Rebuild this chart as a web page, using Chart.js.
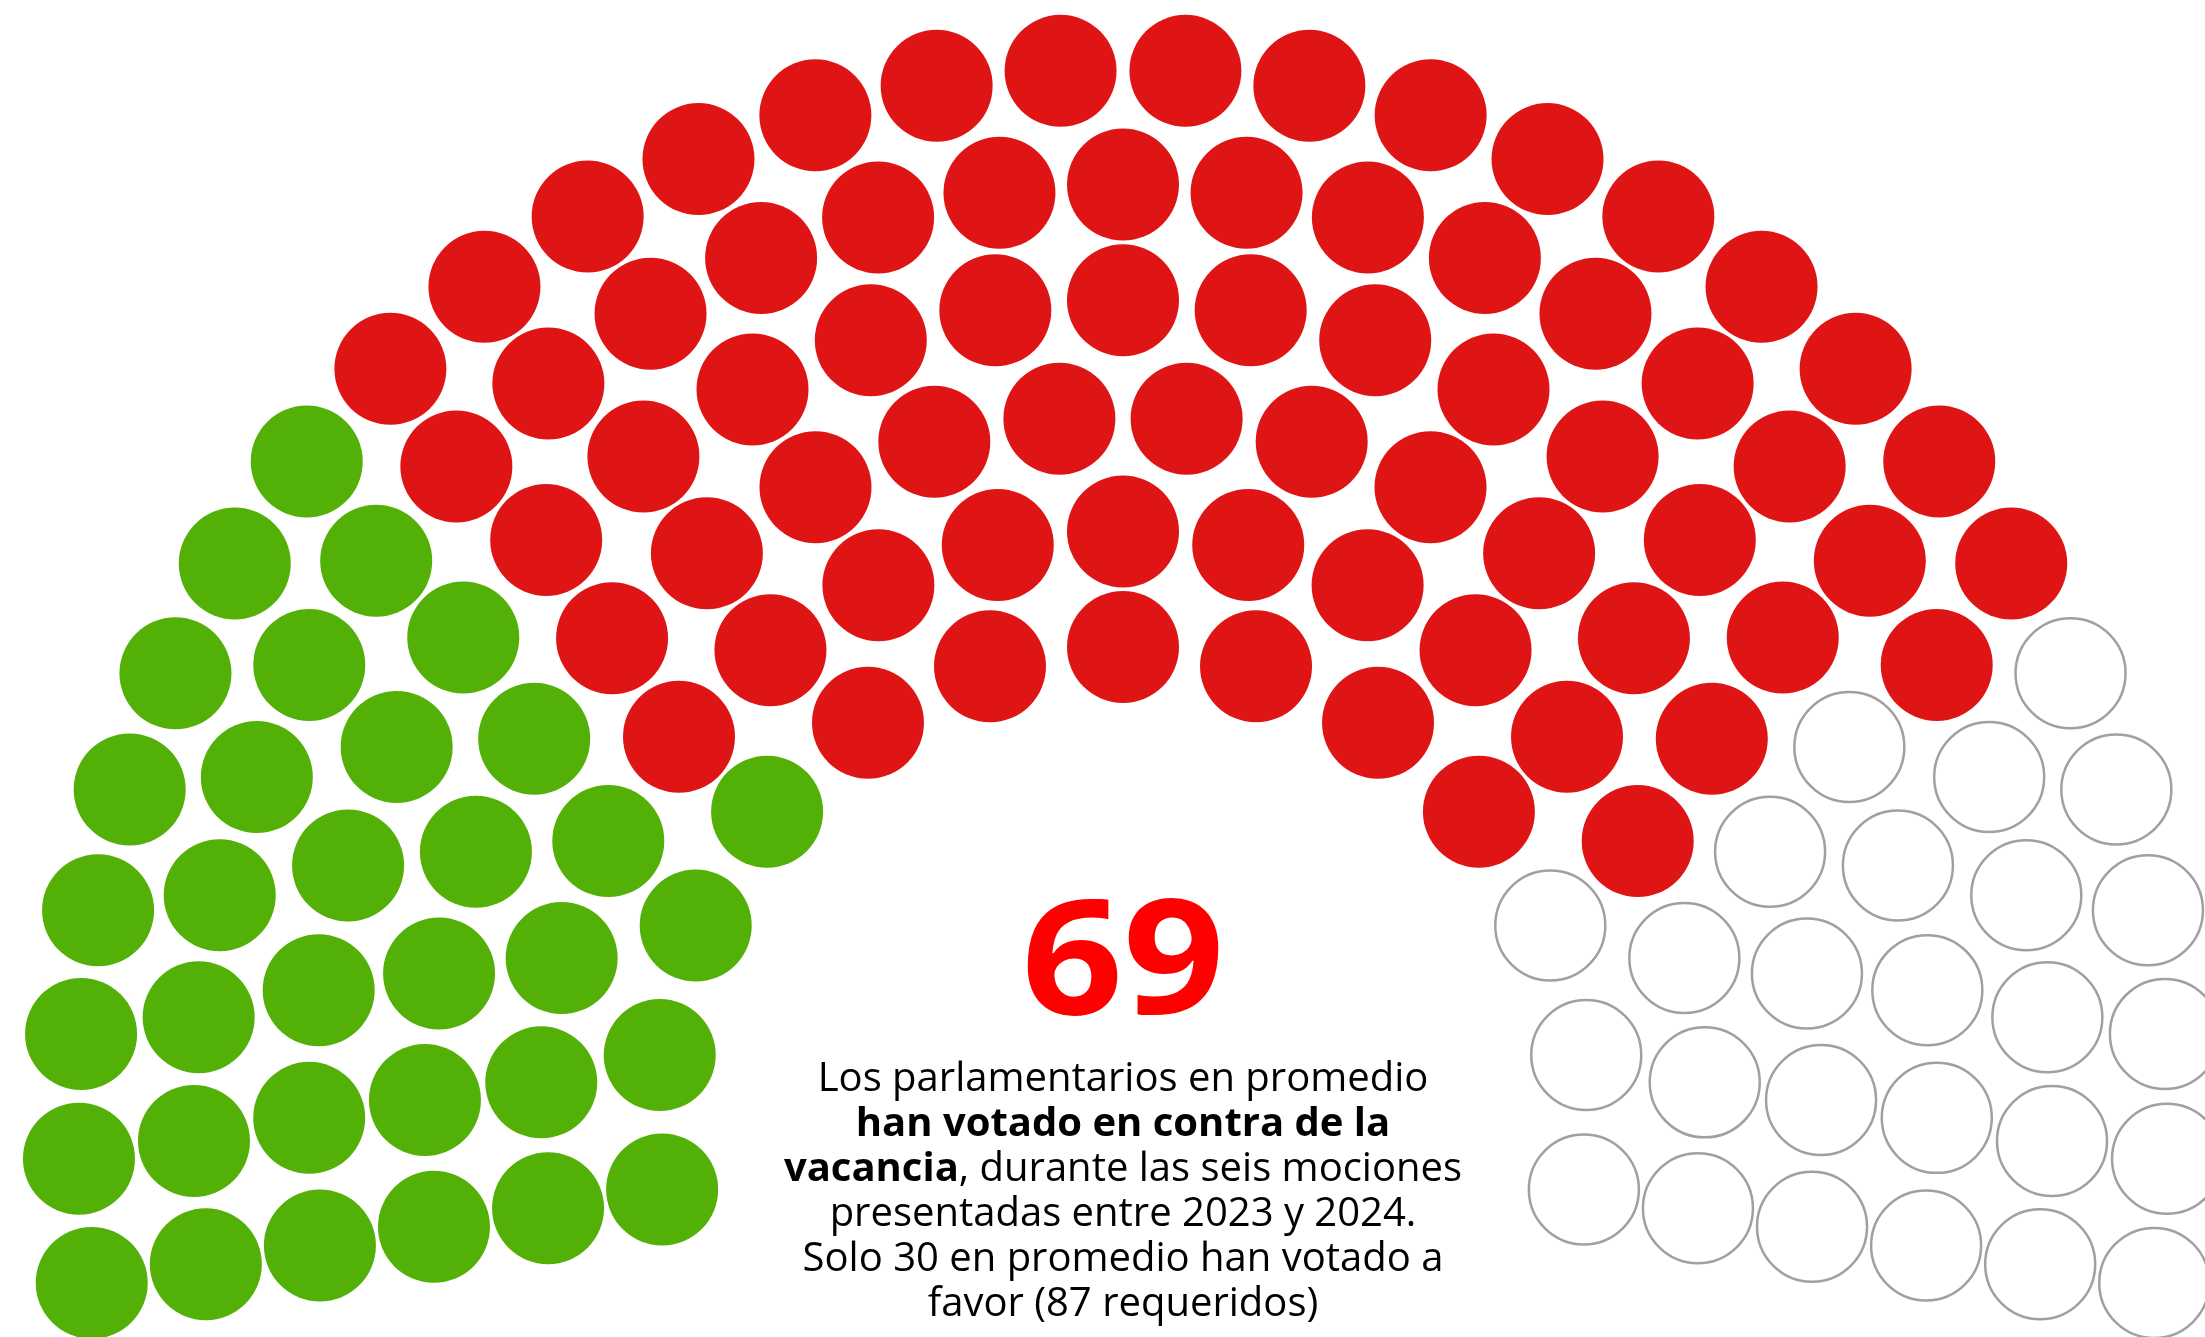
<!DOCTYPE html>
<html>
<head>
<meta charset="utf-8">
<script src="https://cdn.jsdelivr.net/npm/chart.js@4.4.1/dist/chart.umd.min.js"></script>
<style>
body { margin: 0; background: #fff; }
#wrap { position: relative; width: 2205px; height: 1337px; overflow: hidden; }
#big { position: absolute; left: 823px; width: 600px; top: 872px; text-align: center;
       font: bold 160px/160px "Open Sans"; color: #ff0000; transform: scaleX(1.11); }
#txt { position: absolute; left: 723px; width: 800px; top: 1053px; text-align: center;
       font: 40px/45px "Open Sans"; color: #000; }
</style>
</head>
<body>
<div id="wrap">
  <canvas id="chart" width="2205" height="1337"></canvas>
  <div id="big">69</div>
  <div id="txt">Los parlamentarios en promedio<br><b>han votado en contra de la<br>vacancia</b>, durante las seis mociones<br>presentadas entre 2023 y 2024.<br>Solo 30 en promedio han votado a<br>favor (87 requeridos)</div>
</div>
<script>
// asientos por grupo, de izquierda a derecha
const groups = ['A favor', 'En contra', 'Sin voto'];
const seats = [34, 70, 26];

// hemiciclo
const rows = 6;
const innerR = 467, outerR = 1045;
const startAngle = 189.3, span = 198.6;

function seat_positions(total) {
    let radii = [];
    for (let i = 0; i < rows; i++) radii.push(innerR + i * (outerR - innerR) / (rows - 1));
    let sum = radii.reduce((a, b) => a + b, 0);
    let counts = radii.map(r => Math.round(total * r / sum));
    counts[rows - 1] += total - counts.reduce((a, b) => a + b, 0);

    let pos = [];
    radii.forEach((r, i) => {
        let n = counts[i];
        for (let k = 0; k < n; k++) {
            let t = k / (n - 1);
            let a = (startAngle - span * t) * Math.PI / 180;
            pos.push({t: t, x: r * Math.cos(a), y: r * Math.sin(a)});
        }
    });
    // orden por ángulo; en empate va primero la fila interior
    pos.sort((a, b) => a.t - b.t);
    return pos;
}

function make_parliament() {
    let total = seats.reduce((a, b) => a + b, 0);
    let pos = seat_positions(total);
    let fills = ['#52b006', '#df1515', '#ffffff'];
    let borders = ['#52b006', '#df1515', '#a0a0a0'];

    let datasets = [];
    let start = 0;
    groups.forEach((g, i) => {
        let pts = pos.slice(start, start + seats[i]).map(p => ({x: p.x, y: p.y}));
        start += seats[i];
        datasets.push({
            label: g,
            data: pts,
            pointRadius: i === 2 ? 55 : 56,
            pointHoverRadius: 56,
            backgroundColor: fills[i],
            borderColor: borders[i],
            borderWidth: i === 2 ? 2.5 : 0,
            clip: false
        });
    });

    let ctx = document.getElementById("chart").getContext("2d");
    new Chart(ctx, {
        type: 'scatter',
        data: {datasets: datasets},
        options: {
            responsive: false,
            animation: false,
            events: [],
            layout: {padding: 0, autoPadding: false},
            plugins: {legend: {display: false}, tooltip: {enabled: false}},
            scales: {
                x: {type: 'linear', min: -1123, max: 1082, display: false},
                y: {type: 'linear', min: -223, max: 1114, display: false}
            }
        }
    });
}

make_parliament();
</script>
</body>
</html>
